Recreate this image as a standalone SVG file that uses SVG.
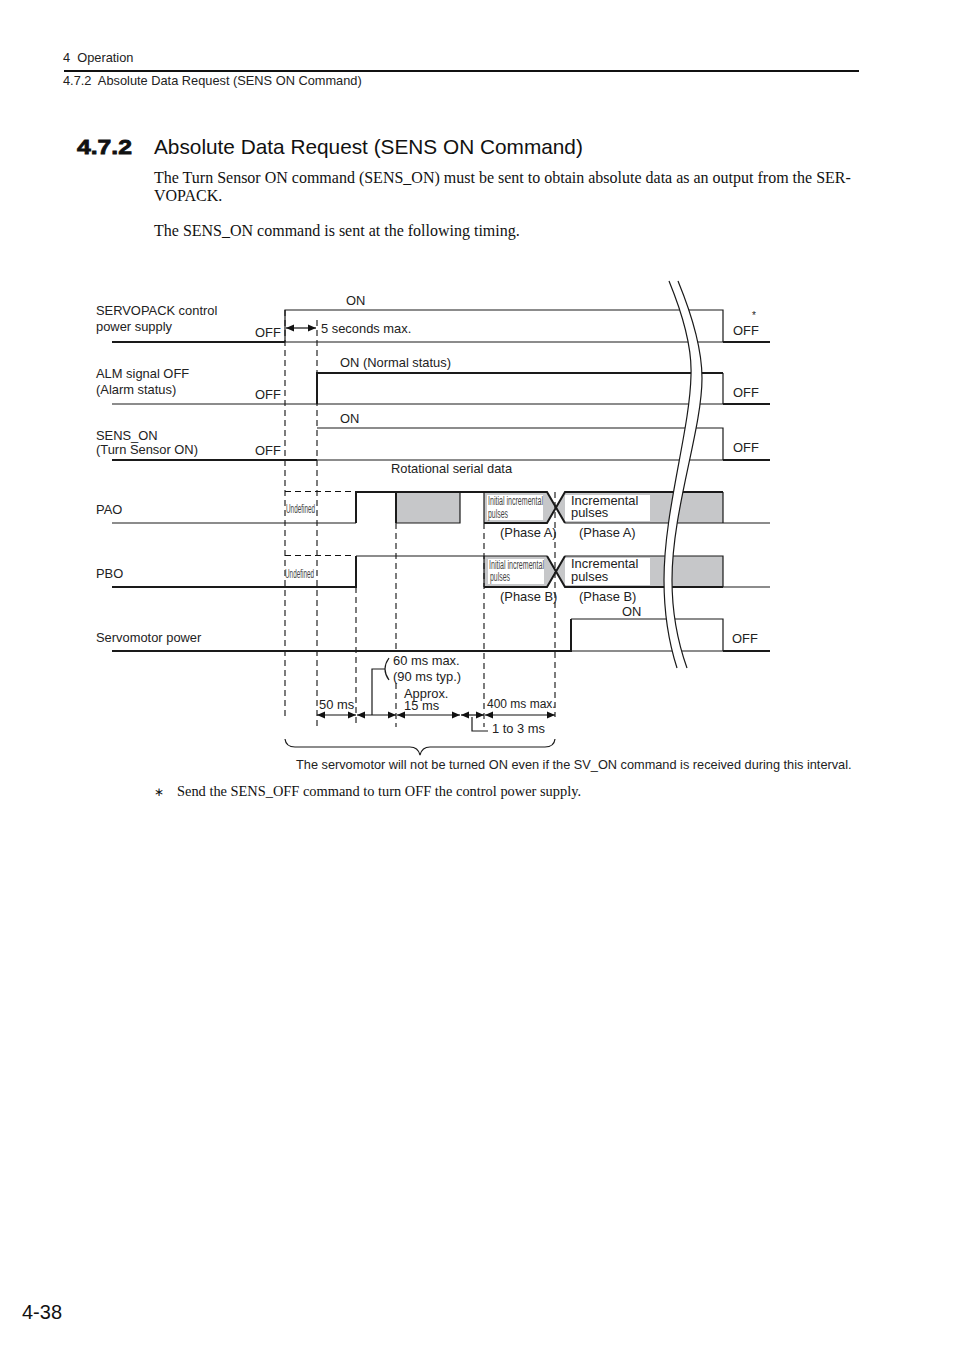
<svg xmlns="http://www.w3.org/2000/svg" width="954" height="1350" viewBox="0 0 954 1350">
<style>
text{font-family:"Liberation Sans",Arial,sans-serif;font-size:12.9px;fill:#222;white-space:pre}
.b{font-family:"Liberation Serif","Times New Roman",serif;font-size:16px;fill:#111}
.h{font-size:12.8px}
.n{font-size:12px;fill:#444}
.t{fill:none;stroke:#1a1a1a;stroke-width:1.2}
.k{fill:none;stroke:#1a1a1a;stroke-width:2}
.d{fill:none;stroke:#111;stroke-width:1.1;stroke-dasharray:6 4}
.g{fill:#c6c7c9}
.w{fill:#fff}
.a{fill:none;stroke:#111;stroke-width:1.2;marker-start:url(#as);marker-end:url(#ae)}
</style>
<defs>
<marker id="ae" markerUnits="userSpaceOnUse" markerWidth="9" markerHeight="8" refX="8" refY="4" orient="auto"><path d="M0 0.5L8 4L0 7.500z" fill="#111"/></marker>
<marker id="as" markerUnits="userSpaceOnUse" markerWidth="9" markerHeight="8" refX="1" refY="4" orient="auto"><path d="M9 0.5L1 4L9 7.500z" fill="#111"/></marker>
</defs>
<rect width="954" height="1350" fill="#fff"/>
<g id="header">
<text x="63" y="62" class="h">4  Operation</text>
<path d="M64 71H859" stroke="#111" stroke-width="2.200"/>
<text x="63" y="85" class="h">4.7.2  Absolute Data Request (SENS ON Command)</text>
<text x="77" y="154" style="font-weight:bold;font-size:20.5px;fill:#111" stroke="#111" stroke-width=".8" textLength="55" lengthAdjust="spacingAndGlyphs">4.7.2</text>
<text x="154" y="154" style="font-size:20.8px;fill:#111">Absolute Data Request (SENS ON Command)</text>
<text x="154" y="183" class="b">The Turn Sensor ON command (SENS_ON) must be sent to obtain absolute data as an output from the SER-</text>
<text x="154" y="201" class="b">VOPACK.</text>
<text x="154" y="236" class="b">The SENS_ON command is sent at the following timing.</text>
</g>
<g id="grey-fills">
<rect class="g" x="396" y="492" width="64" height="31"/>
<path class="g" d="M484 492H547L556 507.500L547 523H484z"/>
<path class="g" d="M484 556H547L556 571.500L547 587H484z"/>
<path class="g" d="M565 492H723V523H565L556 507.500z"/>
<path class="g" d="M565 556H723V587H565L556 571.500z"/>
<rect class="w" x="487" y="495" width="56" height="25"/>
<rect class="w" x="488" y="559" width="56" height="25"/>
<rect class="w" x="565" y="495" width="85" height="26"/>
<rect class="w" x="565" y="558" width="85" height="27"/>
</g>
<g id="connectors">
<path class="d" d="M285 310V717M317 320V727M356 587V727M396 523V653M396 683V727M484 523V727M555 492V717"/>
<path class="d" d="M285 491.500H352M285 555.500H352"/>
<path class="k" d="M112 342H285"/><path class="t" d="M285 342V310H723V342H285"/><path class="k" d="M723 342H770"/>
<path class="t" d="M112 404H770"/><path class="k" d="M317 404V373H723" stroke-width="2"/><path class="t" d="M723 373V404"/><path class="k" d="M723 404H770"/>
<path class="k" d="M112 460H317"/><path class="t" d="M317 460H723V428H317"/><path class="k" d="M723 460H770"/>
<path class="t" d="M112 523H356"/><path class="k" d="M356 523V492H547L565 523"/><path class="k" d="M396 492V523"/><path class="t" d="M396 523H460V492"/><path class="t" d="M484 492V523"/><path class="k" d="M484 523H547L565 492H723"/><path class="t" d="M723 492V523M565 523H770"/>
<path class="k" d="M112 587H356V556"/><path class="t" d="M356 556H547"/><path class="t" d="M484 556V587"/><path class="k" d="M484 587H547L565 556M547 556L565 587H723"/><path class="t" d="M565 556H723V587H770"/>
<path class="k" d="M112 651H571V619"/><path class="t" d="M571 619H723V651"/><path class="t" d="M571 651H723"/><path class="k" d="M723 651H770"/>
<path d="M669 281C685 320 692 350 691 375C690 430 664 510 664 580C664 610 668 640 677 668L687 668C677 640 672 610 672 580C672 510 702 430 702 378C702 355 694 320 678 281z" fill="#fff"/>
<path class="t" d="M669 281C685 320 692 350 691 375C690 430 664 510 664 580C664 610 668 640 677 668"/>
<path class="t" d="M678 281C694 320 702 355 702 378C702 430 672 510 672 580C672 610 677 640 687 668"/>
<path class="a" d="M286 328H316"/>
<path class="a" d="M317 715H356"/><path class="a" d="M357 715H396"/><path class="a" d="M397 715H460"/><path class="a" d="M461 715H484"/><path class="a" d="M485 715H555"/>
<path class="t" d="M372 715V669H385M389 658Q381 669 389 680"/>
<path class="t" d="M472 717V731H488"/>
<path class="t" d="M285 739Q286 747 295 747H410Q418 747 420 755Q422 747 430 747H545Q554 747 555 739"/>
</g>
<g id="labels">
<text x="96" y="315">SERVOPACK control</text><text x="96" y="331">power supply</text>
<text x="96" y="378">ALM signal OFF</text><text x="96" y="394">(Alarm status)</text>
<text x="96" y="440">SENS_ON</text><text x="96" y="454">(Turn Sensor ON)</text>
<text x="96" y="514">PAO</text><text x="96" y="578">PBO</text><text x="96" y="642">Servomotor power</text>
<text x="255" y="337">OFF</text><text x="255" y="399">OFF</text><text x="255" y="455">OFF</text>
<text x="733" y="335">OFF</text><text x="733" y="397">OFF</text><text x="733" y="452">OFF</text><text x="732" y="643">OFF</text>
<text x="752" y="319" style="font-size:10px">*</text>
<text x="346" y="305">ON</text><text x="321" y="333">5 seconds max.</text><text x="340" y="367">ON (Normal status)</text><text x="340" y="423">ON</text><text x="391" y="473">Rotational serial data</text>
<text x="286" y="513" class="n" textLength="29" lengthAdjust="spacingAndGlyphs">Undefined</text>
<text x="285" y="578" class="n" textLength="29" lengthAdjust="spacingAndGlyphs">Undefined</text>
<text x="488" y="505" class="n" textLength="55" lengthAdjust="spacingAndGlyphs">Initial incremental</text>
<text x="488" y="518" class="n" textLength="20" lengthAdjust="spacingAndGlyphs">pulses</text>
<text x="489" y="569" class="n" textLength="55" lengthAdjust="spacingAndGlyphs">Initial incremental</text>
<text x="490" y="581" class="n" textLength="20" lengthAdjust="spacingAndGlyphs">pulses</text>
<text x="571" y="505">Incremental</text><text x="571" y="517">pulses</text>
<text x="571" y="568">Incremental</text><text x="571" y="581">pulses</text>
<text x="500" y="537">(Phase A)</text><text x="579" y="537">(Phase A)</text>
<text x="500" y="601">(Phase B)</text><text x="579" y="601">(Phase B)</text>
<text x="622" y="616">ON</text>
<text x="393" y="665">60 ms max.</text><text x="393" y="681">(90 ms typ.)</text>
<text x="404" y="698">Approx.</text><text x="404" y="710">15 ms</text>
<text x="319" y="709">50 ms</text>
<text x="487" y="708" style="font-size:12px">400 ms max.</text>
<text x="492" y="733">1 to 3 ms</text>
<text x="296" y="769" style="font-size:12.750px">The servomotor will not be turned ON even if the SV_ON command is received during this interval.</text>
<text x="154" y="796" class="b" style="font-size:12px">∗</text>
<text x="177" y="796" class="b" style="font-size:14.400px">Send the SENS_OFF command to turn OFF the control power supply.</text>
<text x="22" y="1319" style="font-size:20px;fill:#111">4-38</text>
</g>
</svg>
